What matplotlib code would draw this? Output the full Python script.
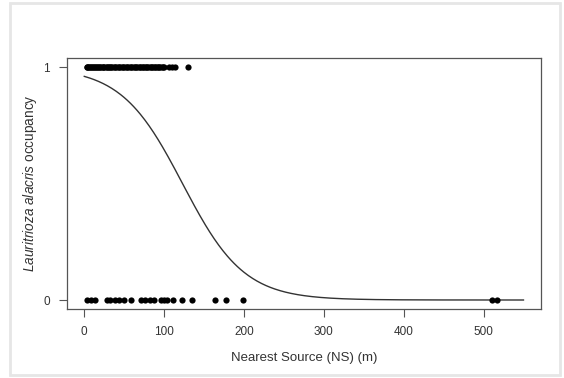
#!/usr/bin/env python3
"""
plot.py - occupancy vs distance to nearest source, with fitted logistic curve
"""

import numpy as np
import matplotlib
matplotlib.use('Agg')
import matplotlib.pyplot as plt
from matplotlib.patches import Rectangle

# Observed sites (distance to nearest source, m)
occupied_ns = [3, 4, 5, 6, 7, 8, 10, 11, 12, 13, 15, 16, 17, 19, 20, 21, 23,
               24, 25, 27, 28, 30, 31, 32, 34, 35, 37, 38, 40, 42, 43, 45, 47,
               48, 50, 52, 53, 55, 57, 58, 60, 62, 63, 65, 66, 68, 70, 71, 73,
               74, 76, 77, 79, 80, 82, 83, 85, 86, 88, 89, 91, 92, 94, 95, 97,
               98, 100, 106, 110, 114, 130]
empty_ns = [4, 9, 14, 28, 32, 38, 44, 50, 59, 71, 76, 82, 87, 96, 100, 104,
            111, 122, 135, 164, 178, 199, 510, 517]

# Fitted logistic model coefficients
intercept = 3.2
slope = -0.026
curve_max = 550

x_ticks = [0, 100, 200, 300, 400, 500]
y_ticks = [0, 1]

plt.rcParams['font.family'] = ['Liberation Sans', 'DejaVu Sans']
plt.rcParams['mathtext.fontset'] = 'custom'
plt.rcParams['mathtext.rm'] = 'Liberation Sans'
plt.rcParams['mathtext.it'] = 'Liberation Sans:italic'

fig = plt.figure(figsize=(5.64, 3.78), dpi=100)

# light grey frame around the whole picture
fig.patches.append(Rectangle((10 / 564, 3 / 378), 550 / 564, 372 / 378,
                             transform=fig.transFigure, fill=False,
                             edgecolor='#e6e6e6', linewidth=2))

ax = fig.add_axes([0.1183, 0.1817, 0.841, 0.665])

xs = np.linspace(0, curve_max, 400)
ys = 1 / (1 + np.exp(-(intercept + slope * xs)))
ax.plot(xs, ys, color='#333333', linewidth=1.0)

ax.scatter(occupied_ns, np.ones(len(occupied_ns)), s=20, color='black',
           zorder=3, linewidths=0)
ax.scatter(empty_ns, np.zeros(len(empty_ns)), s=20, color='black',
           zorder=3, linewidths=0)

ax.set_xlim(-22, 572)
ax.set_ylim(-0.04, 1.04)
ax.set_xticks(x_ticks)
ax.set_yticks(y_ticks)
ax.tick_params(direction='out', length=6, width=0.8, color='#555555',
               labelsize=8.5, labelcolor='#333333', pad=6)
for sp in ax.spines.values():
    sp.set_color('#555555')
    sp.set_linewidth(0.9)

ax.set_xlabel('Nearest Source (NS) (m)', fontsize=9.5, color='#333333',
              labelpad=10)
ax.set_ylabel(r'$\it{Lauritrioza\ alacris}$ occupancy', fontsize=9.8,
              color='#333333', va='center')
ax.yaxis.set_label_coords(-0.077, 0.5)

fig.savefig('out.png', dpi=100)
